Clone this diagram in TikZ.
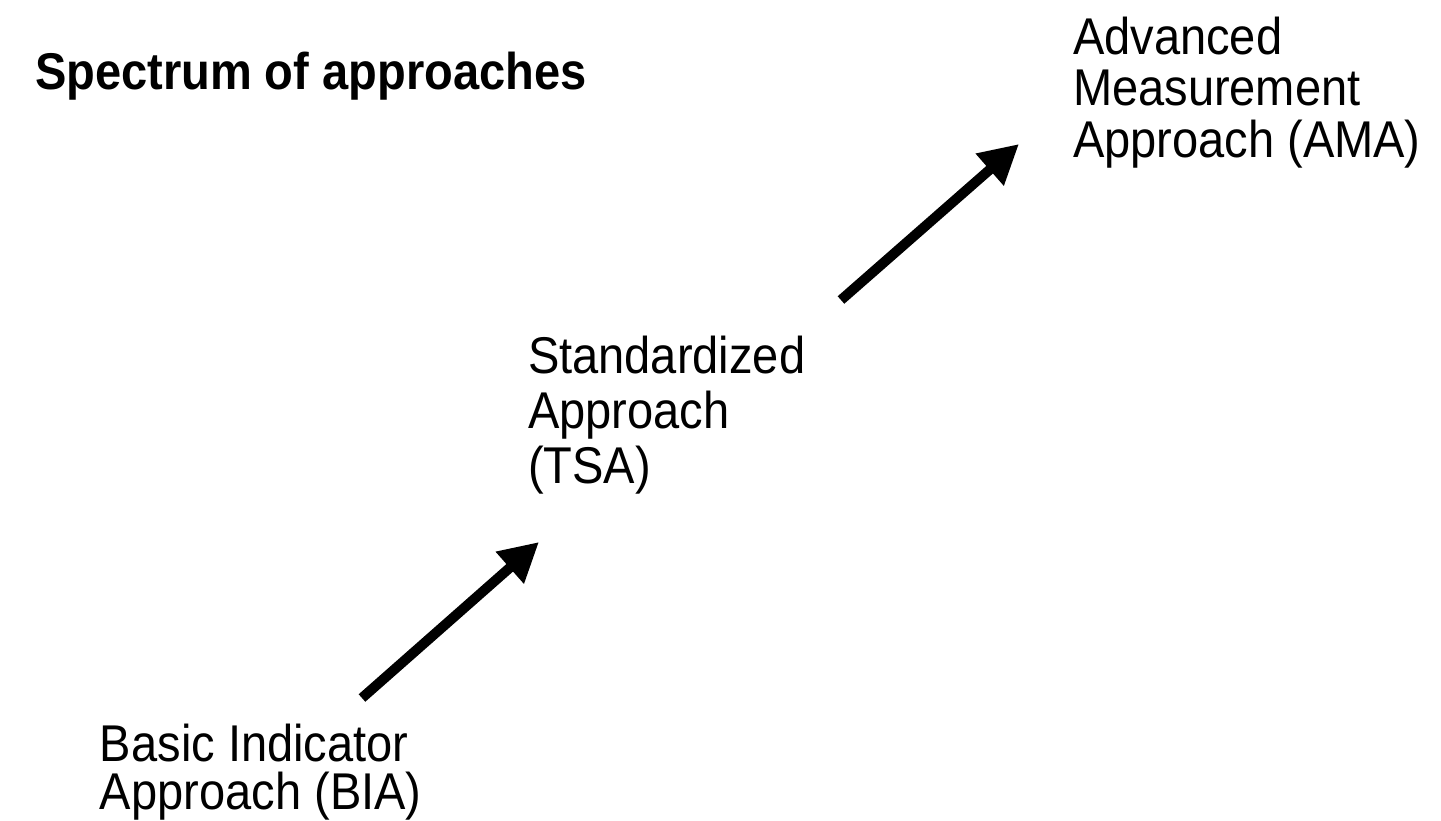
\documentclass[tikz,border=0pt]{standalone}
\usepackage{fontspec}
\setmainfont{Liberation Sans}[FakeStretch=0.91]
\usetikzlibrary{arrows.meta}
\usetikzlibrary{positioning}

\begin{document}
\begin{tikzpicture}[x=0.01cm, y=-0.01cm,
  every node/.style={inner sep=0pt, outer sep=0pt, align=left, anchor=base west, font=\fontsize{14.7pt}{15.4pt}\selectfont},
  stepArrow/.style={line width=0.1cm, -{Triangle[length=0.39cm, width=0.40cm]}}]
\useasboundingbox (0,0) rectangle (1441,821);
\node[font=\fontsize{14.7pt}{15.4pt}\selectfont\bfseries] (T0) at (35,90) {Spectrum of approaches};
\node[font=\fontsize{14.7pt}{13.4pt}\selectfont] (A1) at (100,809) {Basic Indicator\\Approach (BIA)};
\node[font=\fontsize{14.7pt}{15.6pt}\selectfont] (A2) at (528,483) {Standardized\\Approach\\(TSA)};
\node[font=\fontsize{14.7pt}{14.6pt}\selectfont] (A3) at (1073,157) {Advanced\\Measurement\\Approach (AMA)};
\coordinate (A1T) at (362,698);
\coordinate (A2H) at (539,542);
\coordinate (A2T) at (841,300);
\coordinate (A3H) at (1019,144);
\draw[stepArrow] (A1T) -- (A2H);
\draw[stepArrow] (A2T) -- (A3H);
\end{tikzpicture}
\end{document}
